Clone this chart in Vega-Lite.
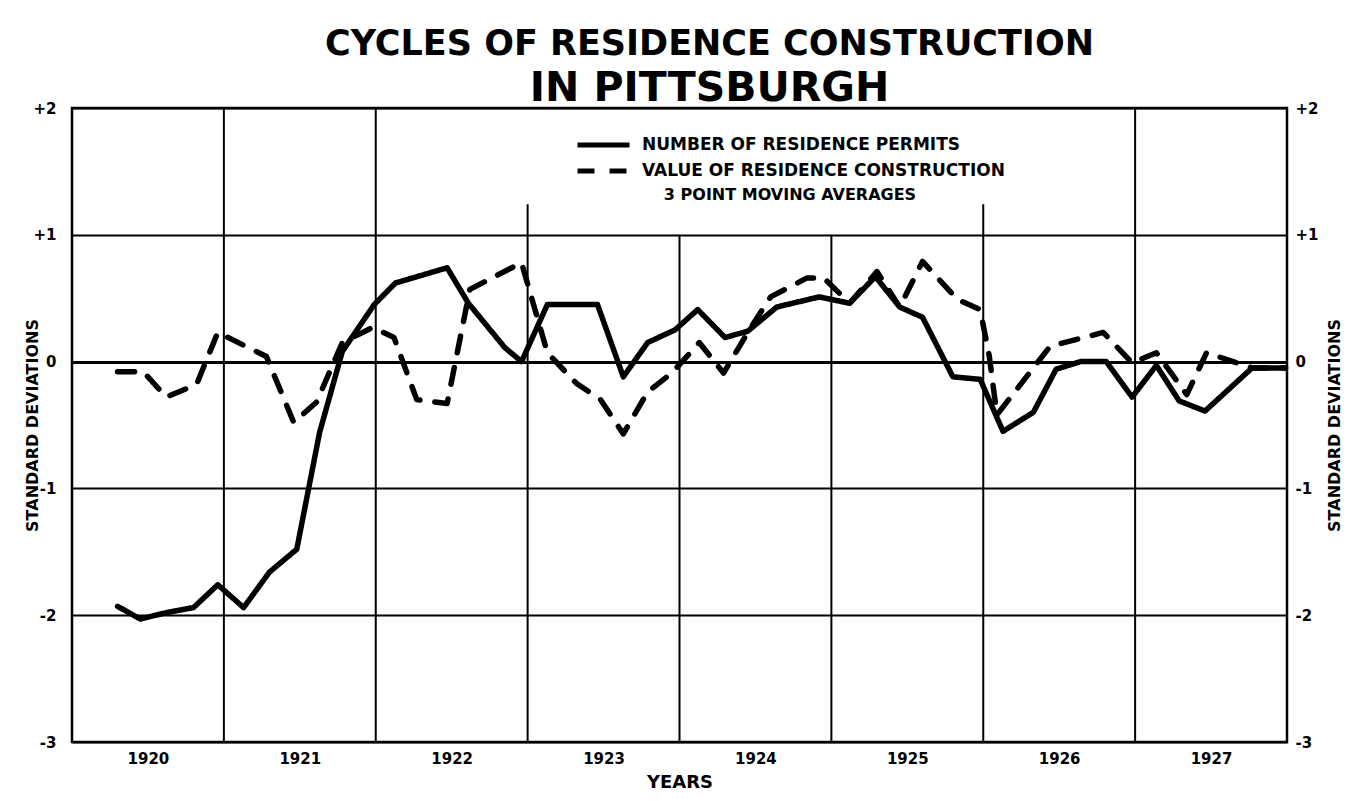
{
  "$schema": "https://vega.github.io/schema/vega-lite/v6.json",
  "width": 1215,
  "height": 634,
  "autosize": {"type": "none"},
  "padding": {"left": 72, "top": 108, "right": 67, "bottom": 59},
  "background": "white",
  "title": {
    "text": "CYCLES OF RESIDENCE CONSTRUCTION",
    "subtitle": "IN PITTSBURGH",
    "font": "DejaVu Sans", "fontSize": 35, "fontWeight": "bold", "color": "black",
    "subtitleFont": "DejaVu Sans", "subtitleFontSize": 41, "subtitleFontWeight": "bold", "subtitleColor": "black",
    "anchor": "middle", "dx": 30, "offset": -8, "subtitlePadding": 7
  },
  "config": {
    "view": {"stroke": "black", "strokeWidth": 2.5},
    "font": "DejaVu Sans"
  },
  "datasets": {
    "grid": [
      {"year": 1921, "top": 2}, {"year": 1922, "top": 2}, {"year": 1923, "top": 1.24},
      {"year": 1924, "top": 1}, {"year": 1925, "top": 1}, {"year": 1926, "top": 1.24},
      {"year": 1927, "top": 2}
    ],
    "series": [
      {"series": "NUMBER OF RESIDENCE PERMITS", "t": 1920.30, "v": -1.93},
      {"series": "NUMBER OF RESIDENCE PERMITS", "t": 1920.45, "v": -2.03},
      {"series": "NUMBER OF RESIDENCE PERMITS", "t": 1920.62, "v": -1.98},
      {"series": "NUMBER OF RESIDENCE PERMITS", "t": 1920.80, "v": -1.94},
      {"series": "NUMBER OF RESIDENCE PERMITS", "t": 1920.96, "v": -1.76},
      {"series": "NUMBER OF RESIDENCE PERMITS", "t": 1921.13, "v": -1.94},
      {"series": "NUMBER OF RESIDENCE PERMITS", "t": 1921.30, "v": -1.66},
      {"series": "NUMBER OF RESIDENCE PERMITS", "t": 1921.48, "v": -1.48},
      {"series": "NUMBER OF RESIDENCE PERMITS", "t": 1921.63, "v": -0.56},
      {"series": "NUMBER OF RESIDENCE PERMITS", "t": 1921.78, "v": 0.08},
      {"series": "NUMBER OF RESIDENCE PERMITS", "t": 1921.99, "v": 0.45},
      {"series": "NUMBER OF RESIDENCE PERMITS", "t": 1922.13, "v": 0.62},
      {"series": "NUMBER OF RESIDENCE PERMITS", "t": 1922.47, "v": 0.74},
      {"series": "NUMBER OF RESIDENCE PERMITS", "t": 1922.61, "v": 0.46},
      {"series": "NUMBER OF RESIDENCE PERMITS", "t": 1922.85, "v": 0.11},
      {"series": "NUMBER OF RESIDENCE PERMITS", "t": 1922.96, "v": 0.0},
      {"series": "NUMBER OF RESIDENCE PERMITS", "t": 1923.13, "v": 0.45},
      {"series": "NUMBER OF RESIDENCE PERMITS", "t": 1923.46, "v": 0.45},
      {"series": "NUMBER OF RESIDENCE PERMITS", "t": 1923.63, "v": -0.12},
      {"series": "NUMBER OF RESIDENCE PERMITS", "t": 1923.79, "v": 0.15},
      {"series": "NUMBER OF RESIDENCE PERMITS", "t": 1923.97, "v": 0.25},
      {"series": "NUMBER OF RESIDENCE PERMITS", "t": 1924.12, "v": 0.41},
      {"series": "NUMBER OF RESIDENCE PERMITS", "t": 1924.30, "v": 0.19},
      {"series": "NUMBER OF RESIDENCE PERMITS", "t": 1924.45, "v": 0.24},
      {"series": "NUMBER OF RESIDENCE PERMITS", "t": 1924.64, "v": 0.43},
      {"series": "NUMBER OF RESIDENCE PERMITS", "t": 1924.92, "v": 0.51},
      {"series": "NUMBER OF RESIDENCE PERMITS", "t": 1925.12, "v": 0.46},
      {"series": "NUMBER OF RESIDENCE PERMITS", "t": 1925.29, "v": 0.67},
      {"series": "NUMBER OF RESIDENCE PERMITS", "t": 1925.45, "v": 0.43},
      {"series": "NUMBER OF RESIDENCE PERMITS", "t": 1925.60, "v": 0.35},
      {"series": "NUMBER OF RESIDENCE PERMITS", "t": 1925.80, "v": -0.12},
      {"series": "NUMBER OF RESIDENCE PERMITS", "t": 1925.98, "v": -0.14},
      {"series": "NUMBER OF RESIDENCE PERMITS", "t": 1926.13, "v": -0.55},
      {"series": "NUMBER OF RESIDENCE PERMITS", "t": 1926.33, "v": -0.40},
      {"series": "NUMBER OF RESIDENCE PERMITS", "t": 1926.48, "v": -0.06},
      {"series": "NUMBER OF RESIDENCE PERMITS", "t": 1926.64, "v": 0.0},
      {"series": "NUMBER OF RESIDENCE PERMITS", "t": 1926.81, "v": 0.0},
      {"series": "NUMBER OF RESIDENCE PERMITS", "t": 1926.98, "v": -0.28},
      {"series": "NUMBER OF RESIDENCE PERMITS", "t": 1927.14, "v": -0.03},
      {"series": "NUMBER OF RESIDENCE PERMITS", "t": 1927.29, "v": -0.31},
      {"series": "NUMBER OF RESIDENCE PERMITS", "t": 1927.46, "v": -0.39},
      {"series": "NUMBER OF RESIDENCE PERMITS", "t": 1927.77, "v": -0.05},
      {"series": "NUMBER OF RESIDENCE PERMITS", "t": 1927.99, "v": -0.05},
      {"series": "VALUE OF RESIDENCE CONSTRUCTION", "t": 1920.30, "v": -0.08},
      {"series": "VALUE OF RESIDENCE CONSTRUCTION", "t": 1920.47, "v": -0.08},
      {"series": "VALUE OF RESIDENCE CONSTRUCTION", "t": 1920.62, "v": -0.28},
      {"series": "VALUE OF RESIDENCE CONSTRUCTION", "t": 1920.82, "v": -0.18},
      {"series": "VALUE OF RESIDENCE CONSTRUCTION", "t": 1920.96, "v": 0.23},
      {"series": "VALUE OF RESIDENCE CONSTRUCTION", "t": 1921.28, "v": 0.04},
      {"series": "VALUE OF RESIDENCE CONSTRUCTION", "t": 1921.46, "v": -0.48},
      {"series": "VALUE OF RESIDENCE CONSTRUCTION", "t": 1921.61, "v": -0.32},
      {"series": "VALUE OF RESIDENCE CONSTRUCTION", "t": 1921.78, "v": 0.15},
      {"series": "VALUE OF RESIDENCE CONSTRUCTION", "t": 1921.98, "v": 0.27},
      {"series": "VALUE OF RESIDENCE CONSTRUCTION", "t": 1922.12, "v": 0.19},
      {"series": "VALUE OF RESIDENCE CONSTRUCTION", "t": 1922.27, "v": -0.30},
      {"series": "VALUE OF RESIDENCE CONSTRUCTION", "t": 1922.47, "v": -0.33},
      {"series": "VALUE OF RESIDENCE CONSTRUCTION", "t": 1922.62, "v": 0.57},
      {"series": "VALUE OF RESIDENCE CONSTRUCTION", "t": 1922.96, "v": 0.78},
      {"series": "VALUE OF RESIDENCE CONSTRUCTION", "t": 1923.13, "v": 0.07},
      {"series": "VALUE OF RESIDENCE CONSTRUCTION", "t": 1923.32, "v": -0.17},
      {"series": "VALUE OF RESIDENCE CONSTRUCTION", "t": 1923.48, "v": -0.30},
      {"series": "VALUE OF RESIDENCE CONSTRUCTION", "t": 1923.63, "v": -0.57},
      {"series": "VALUE OF RESIDENCE CONSTRUCTION", "t": 1923.79, "v": -0.24},
      {"series": "VALUE OF RESIDENCE CONSTRUCTION", "t": 1923.95, "v": -0.09},
      {"series": "VALUE OF RESIDENCE CONSTRUCTION", "t": 1924.13, "v": 0.15},
      {"series": "VALUE OF RESIDENCE CONSTRUCTION", "t": 1924.29, "v": -0.09},
      {"series": "VALUE OF RESIDENCE CONSTRUCTION", "t": 1924.46, "v": 0.25},
      {"series": "VALUE OF RESIDENCE CONSTRUCTION", "t": 1924.60, "v": 0.51},
      {"series": "VALUE OF RESIDENCE CONSTRUCTION", "t": 1924.84, "v": 0.66},
      {"series": "VALUE OF RESIDENCE CONSTRUCTION", "t": 1924.95, "v": 0.66},
      {"series": "VALUE OF RESIDENCE CONSTRUCTION", "t": 1925.12, "v": 0.46},
      {"series": "VALUE OF RESIDENCE CONSTRUCTION", "t": 1925.30, "v": 0.71},
      {"series": "VALUE OF RESIDENCE CONSTRUCTION", "t": 1925.45, "v": 0.43},
      {"series": "VALUE OF RESIDENCE CONSTRUCTION", "t": 1925.60, "v": 0.79},
      {"series": "VALUE OF RESIDENCE CONSTRUCTION", "t": 1925.83, "v": 0.49},
      {"series": "VALUE OF RESIDENCE CONSTRUCTION", "t": 1925.98, "v": 0.41},
      {"series": "VALUE OF RESIDENCE CONSTRUCTION", "t": 1926.04, "v": 0.04},
      {"series": "VALUE OF RESIDENCE CONSTRUCTION", "t": 1926.09, "v": -0.42},
      {"series": "VALUE OF RESIDENCE CONSTRUCTION", "t": 1926.44, "v": 0.12},
      {"series": "VALUE OF RESIDENCE CONSTRUCTION", "t": 1926.79, "v": 0.23},
      {"series": "VALUE OF RESIDENCE CONSTRUCTION", "t": 1926.98, "v": -0.01},
      {"series": "VALUE OF RESIDENCE CONSTRUCTION", "t": 1927.14, "v": 0.07},
      {"series": "VALUE OF RESIDENCE CONSTRUCTION", "t": 1927.34, "v": -0.26},
      {"series": "VALUE OF RESIDENCE CONSTRUCTION", "t": 1927.47, "v": 0.07},
      {"series": "VALUE OF RESIDENCE CONSTRUCTION", "t": 1927.77, "v": -0.05},
      {"series": "VALUE OF RESIDENCE CONSTRUCTION", "t": 1927.99, "v": -0.05}
    ]
  },
  "resolve": {"axis": {"y": "independent"}},
  "layer": [
    {
      "data": {"name": "grid"},
      "mark": {"type": "rule", "color": "black", "strokeWidth": 2},
      "encoding": {
        "x": {
          "field": "year", "type": "quantitative",
          "scale": {"domain": [1920, 1928], "nice": false, "zero": false},
          "axis": {
            "orient": "bottom",
            "values": [1920.5, 1921.5, 1922.5, 1923.5, 1924.5, 1925.5, 1926.5, 1927.5],
            "labelExpr": "floor(datum.value)",
            "grid": false, "ticks": false, "tickSize": 0, "domain": false,
            "labelFlush": false, "labelOverlap": false,
            "labelFont": "DejaVu Sans", "labelFontWeight": "bold", "labelFontSize": 15, "labelColor": "black",
            "labelPadding": 9,
            "title": "YEARS", "titleFont": "DejaVu Sans", "titleFontWeight": "bold", "titleFontSize": 18,
            "titleColor": "black", "titlePadding": 7
          }
        },
        "y": {
          "field": "top", "type": "quantitative",
          "scale": {"domain": [-3, 2], "nice": false, "zero": false},
          "axis": {
            "orient": "right",
            "values": [-3, -2, -1, 0, 1, 2],
            "labelExpr": "datum.value > 0 ? '+' + datum.value : datum.value < 0 ? '-' + abs(datum.value) : '0'",
            "grid": false, "ticks": false, "tickSize": 0, "domain": false,
            "labelFlush": false, "labelOverlap": false,
            "labelFont": "DejaVu Sans", "labelFontWeight": "bold", "labelFontSize": 15, "labelColor": "black",
            "labelPadding": 8,
            "title": "STANDARD DEVIATIONS", "titleFont": "DejaVu Sans", "titleFontWeight": "bold", "titleFontSize": 16,
            "titleColor": "black", "titlePadding": 8, "titleAngle": 270, "titleBaseline": "top"
          }
        },
        "y2": {"datum": -3}
      }
    },
    {
      "data": {"name": "series"},
      "mark": {"type": "line", "color": "black", "strokeWidth": 5.5, "strokeCap": "round", "strokeJoin": "round"},
      "encoding": {
        "x": {"field": "t", "type": "quantitative"},
        "y": {
          "field": "v", "type": "quantitative",
          "axis": {
            "orient": "left",
            "values": [-3, -2, -1, 0, 1, 2],
            "labelExpr": "datum.value > 0 ? '+' + datum.value : datum.value < 0 ? '-' + abs(datum.value) : '0'",
            "grid": true, "gridColor": "black", "gridOpacity": 1,
            "gridWidth": {"condition": {"test": "datum.value === 0", "value": 3}, "value": 2},
            "ticks": false, "tickSize": 0, "domain": false,
            "labelFlush": false, "labelOverlap": false,
            "labelFont": "DejaVu Sans", "labelFontWeight": "bold", "labelFontSize": 15, "labelColor": "black",
            "labelPadding": 16,
            "title": "STANDARD DEVIATIONS", "titleFont": "DejaVu Sans", "titleFontWeight": "bold", "titleFontSize": 16,
            "titleColor": "black", "titlePadding": -8
          }
        },
        "strokeDash": {
          "field": "series", "type": "nominal",
          "scale": {
            "domain": ["NUMBER OF RESIDENCE PERMITS", "VALUE OF RESIDENCE CONSTRUCTION"],
            "range": [[1, 0], [17, 15]]
          },
          "legend": {
            "orient": "none", "legendX": 503, "legendY": 25,
            "padding": 0, "rowPadding": 2, "clipHeight": 24,
            "title": "3 POINT MOVING AVERAGES",
            "titleOrient": "bottom", "titleAnchor": "middle", "titleLimit": 600,
            "titleFont": "DejaVu Sans", "titleFontWeight": "bold", "titleFontSize": 16, "titleColor": "black",
            "titlePadding": 4,
            "symbolType": "stroke", "symbolSize": 2704, "symbolStrokeWidth": 5, "symbolStrokeColor": "black",
            "labelFont": "DejaVu Sans", "labelFontWeight": "bold", "labelFontSize": 17, "labelColor": "black",
            "labelOffset": 10, "labelLimit": 600
          }
        }
      }
    }
  ]
}
